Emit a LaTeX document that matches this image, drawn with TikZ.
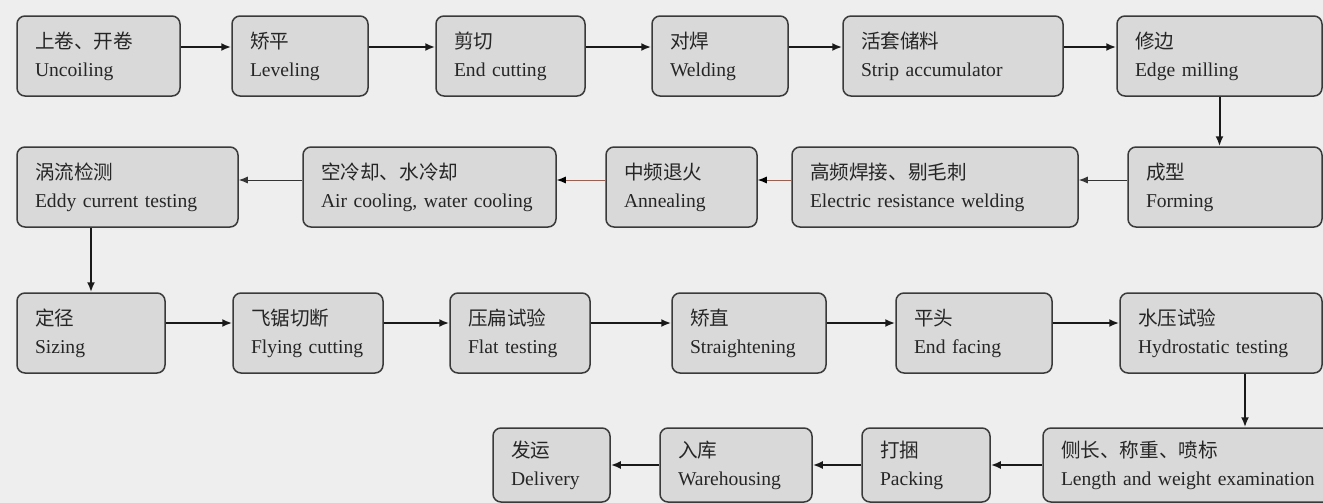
\documentclass[tikz,border=0pt]{standalone}
\usepackage{fontspec}
\setmainfont{Liberation Serif}
\newfontfamily\cjk{Noto Sans CJK SC}
\usetikzlibrary{arrows.meta}
\definecolor{boxfill}{HTML}{D9D9D9}
\definecolor{boxline}{HTML}{3A3A3A}
\definecolor{bgfill}{HTML}{EEEEEE}
\definecolor{thinred}{HTML}{9A5F50}
\newcommand{\proc}[2]{{\cjk #1}\\#2}
\begin{document}
\begin{tikzpicture}
                [x=0.5pt, y=-0.5pt,
                 box/.style={draw=boxline, fill=boxfill, line width=0.75pt, rounded corners=4pt, minimum height=40pt, align=left, inner xsep=9pt, text width=#1, font=\fontsize{9.8}{14}\selectfont, text=black!85},
                 flow/.style={draw=black!90, line width=1pt, -{Latex[length=5pt,width=4pt]}},
                 thinflow/.style={draw=black!80, line width=0.5pt, -{Latex[length=4.5pt,width=3.5pt]}},
                 redflow/.style={draw=thinred, line width=0.5pt, -{Latex[length=4.5pt,width=3.5pt,color=black]}}]
                \path[use as bounding box, clip] (0,0) rectangle (1323,503);
                \fill[bgfill] (0,0) rectangle (1323,503);
                % Row 1
                \node[box=63.5pt] (unc) at (98.5,56) {\proc{上卷、开卷}{Uncoiling}};
                \node[box=50pt] (lev) at (300,56) {\proc{矫平}{Leveling}};
                \node[box=56.5pt] (cut) at (510.5,56) {\proc{剪切}{End cutting}};
                \node[box=50pt] (weld) at (720,56) {\proc{对焊}{Welding}};
                \node[box=92pt] (acc) at (953,56) {\proc{活套储料}{Strip accumulator}};
                \node[box=84.5pt] (edge) at (1219.5,56) {\proc{修边}{Edge milling}};
                % Row 2
                \node[box=92.5pt] (eddy) at (127.5,187) {\proc{涡流检测}{Eddy current testing}};
                \node[box=108.5pt] (air) at (429.5,187) {\proc{空冷却、水冷却}{Air cooling, water cooling}};
                \node[box=57.5pt] (ann) at (681.5,187) {\proc{中频退火}{Annealing}};
                \node[box=125pt] (erw) at (935,187) {\proc{高频焊接、剔毛刺}{Electric resistance welding}};
                \node[box=79pt] (form) at (1225,187) {\proc{成型}{Forming}};
                % Row 3
                \node[box=56pt] (siz) at (91,333) {\proc{定径}{Sizing}};
                \node[box=57pt] (fly) at (308,333) {\proc{飞锯切断}{Flying cutting}};
                \node[box=52pt] (flat) at (520,333) {\proc{压扁试验}{Flat testing}};
                \node[box=59pt] (str) at (749,333) {\proc{矫直}{Straightening}};
                \node[box=60pt] (fac) at (974,333) {\proc{平头}{End facing}};
                \node[box=83pt] (hyd) at (1221,333) {\proc{水压试验}{Hydrostatic testing}};
                % Row 4
                \node[box=40.5pt, minimum height=37pt] (del) at (551.5,465) {\proc{发运}{Delivery}};
                \node[box=58pt, minimum height=37pt] (war) at (736,465) {\proc{入库}{Warehousing}};
                \node[box=46pt, minimum height=37pt] (pack) at (926,465) {\proc{打捆}{Packing}};
                \node[box=128pt, minimum height=37pt] (len) at (1189,465) {\proc{侧长、称重、喷标}{Length and weight examination}};
                % Arrows
                \draw[flow] ([yshift=4.5pt]unc.east) -- ([yshift=4.5pt]lev.west);
                \draw[flow] ([yshift=4.5pt]lev.east) -- ([yshift=4.5pt]cut.west);
                \draw[flow] ([yshift=4.5pt]cut.east) -- ([yshift=4.5pt]weld.west);
                \draw[flow] ([yshift=4.5pt]weld.east) -- ([yshift=4.5pt]acc.west);
                \draw[flow] ([yshift=4.5pt]acc.east) -- ([yshift=4.5pt]edge.west);
                \draw[flow] (edge.south) -- (edge.south |- form.north);
                \draw[thinflow] ([yshift=3.5pt]form.west) -- ([yshift=3.5pt]erw.east);
                \draw[redflow] ([yshift=3.5pt]erw.west) -- ([yshift=3.5pt]ann.east);
                \draw[redflow] ([yshift=3.5pt]ann.west) -- ([yshift=3.5pt]air.east);
                \draw[thinflow] ([yshift=3.5pt]air.west) -- ([yshift=3.5pt]eddy.east);
                \draw[flow] (eddy.south -| siz.north) -- (siz.north);
                \draw[flow] ([yshift=5pt]siz.east) -- ([yshift=5pt]fly.west);
                \draw[flow] ([yshift=5pt]fly.east) -- ([yshift=5pt]flat.west);
                \draw[flow] ([yshift=5pt]flat.east) -- ([yshift=5pt]str.west);
                \draw[flow] ([yshift=5pt]str.east) -- ([yshift=5pt]fac.west);
                \draw[flow] ([yshift=5pt]fac.east) -- ([yshift=5pt]hyd.west);
                \draw[flow] ([xshift=12pt]hyd.south) -- ([xshift=12pt]hyd.south |- len.north);
                \draw[flow] (len.west) -- (pack.east);
                \draw[flow] (pack.west) -- (war.east);
                \draw[flow] (war.west) -- (del.east);
            \end{tikzpicture}
\end{document}
